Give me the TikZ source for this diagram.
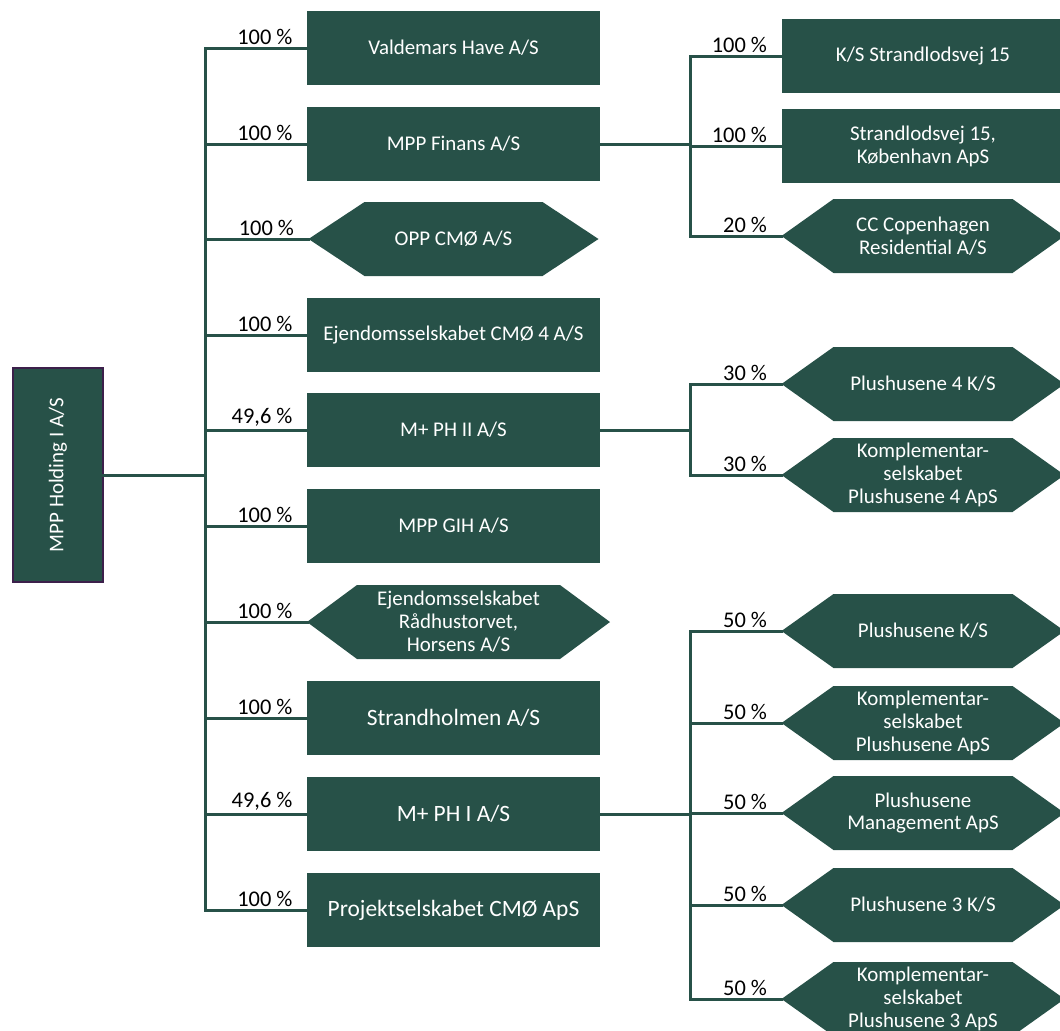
\documentclass[tikz,border=0pt]{standalone}
\usepackage{fontspec}
\setmainfont{Carlito}
\definecolor{mppgreen}{RGB}{39,81,72}
\definecolor{mpppurple}{RGB}{60,32,75}

\begin{document}
\begin{tikzpicture}[x=1bp,y=-1bp,
	company/.style={rectangle,fill=mppgreen,text=white,inner sep=2bp,outer sep=0,minimum height=74bp,align=center,font=\fontsize{21}{23}\selectfont},
	bigco/.style={company,font=\fontsize{23.5}{26}\selectfont},
	hexco/.style={company,fill=none,path picture={
		\fill[mppgreen] (path picture bounding box.west) -- ([xshift=#1]path picture bounding box.north west) -- ([xshift=-#1]path picture bounding box.north east) -- (path picture bounding box.east) -- ([xshift=-#1]path picture bounding box.south east) -- ([xshift=#1]path picture bounding box.south west) -- cycle;}},
	hexco/.default=52bp,
	owner/.style={draw=mppgreen,line width=3bp,line cap=rect},
	pct/.style={pos=1,anchor=south east,xshift=-12bp,yshift=1bp,inner sep=1bp,text=black,font=\fontsize{22.5}{24}\selectfont}]
	\useasboundingbox (0,0) rectangle (1060,1031);
	\clip (0,0) rectangle (1060,1031);
	\node[draw=mpppurple,line width=2.5bp,fill=mppgreen,text=white,rotate=90,inner sep=0,outer sep=0,minimum width=214bp,minimum height=90bp,font=\fontsize{21}{23}\selectfont] (holding) at (58,475) {MPP Holding I A/S};
	\node[company,minimum width=293bp] (valdemars) at (453.5,48) {Valdemars Have A/S};
	\node[company,minimum width=293bp] (finans) at (453.5,144) {MPP Finans A/S};
	\node[hexco=56bp,minimum width=290bp] (opp) at (453.5,239) {OPP CMØ A/S};
	\node[company,minimum width=293bp] (cmo4) at (453.5,335) {Ejendomsselskabet CMØ 4 A/S};
	\node[company,minimum width=293bp] (phii) at (453.5,430) {M+ PH II A/S};
	\node[company,minimum width=293bp] (gih) at (453.5,526) {MPP GIH A/S};
	\node[hexco=50bp,minimum width=303bp] (raadhus) at (458.5,622) {Ejendomsselskabet\\Rådhustorvet,\\Horsens A/S};
	\node[bigco,minimum width=293bp] (strandholmen) at (453.5,718) {Strandholmen A/S};
	\node[bigco,minimum width=293bp] (phi) at (453.5,814) {M+ PH I A/S};
	\node[bigco,minimum width=293bp] (cmoaps) at (453.5,910) {Projektselskabet CMØ ApS};
	\node[company,minimum width=283bp] (ks15) at (923,56) {K/S Strandlodsvej 15};
	\node[company,minimum width=283bp] (sv15) at (923,146) {Strandlodsvej 15,\\København ApS};
	\node[hexco,minimum width=283bp] (ccres) at (923,236) {CC Copenhagen\\Residential A/S};
	\node[hexco,minimum width=283bp] (ph4ks) at (923,384) {Plushusene 4 K/S};
	\node[hexco,minimum width=283bp] (ph4aps) at (923,475) {Komplementar-\\selskabet\\Plushusene 4 ApS};
	\node[hexco,minimum width=283bp] (phks) at (923,631) {Plushusene K/S};
	\node[hexco,minimum width=283bp] (phaps) at (923,723) {Komplementar-\\selskabet\\Plushusene ApS};
	\node[hexco,minimum width=283bp] (phman) at (923,813) {Plushusene\\Management ApS};
	\node[hexco,minimum width=283bp] (ph3ks) at (923,905) {Plushusene 3 K/S};
	\node[hexco,minimum width=283bp] (ph3aps) at (923,999) {Komplementar-\\selskabet\\Plushusene 3 ApS};
	\coordinate (trunk) at (205,475);
	\coordinate (finansfork) at (690,144);
	\coordinate (phiifork) at (690,430);
	\coordinate (phifork) at (690,814);
	% holding -> first level
	\draw[owner] (holding) -- (trunk);
	\draw[owner] (trunk |- valdemars) -- (trunk |- cmoaps);
	\draw[owner] (trunk |- valdemars) -- node[pct] {100 \%} (valdemars.west);
	\draw[owner] (trunk |- finans) -- node[pct] {100 \%} (finans.west);
	\draw[owner] (trunk |- opp) -- node[pct] {100 \%} (opp.west);
	\draw[owner] (trunk |- cmo4) -- node[pct] {100 \%} (cmo4.west);
	\draw[owner] (trunk |- phii) -- node[pct] {49,6 \%} (phii.west);
	\draw[owner] (trunk |- gih) -- node[pct] {100 \%} (gih.west);
	\draw[owner] (trunk |- raadhus) -- node[pct] {100 \%} (raadhus.west);
	\draw[owner] (trunk |- strandholmen) -- node[pct] {100 \%} (strandholmen.west);
	\draw[owner] (trunk |- phi) -- node[pct] {49,6 \%} (phi.west);
	\draw[owner] (trunk |- cmoaps) -- node[pct] {100 \%} (cmoaps.west);
	% second level
	\draw[owner] (finans) -- (finansfork);
	\draw[owner] (finansfork |- ks15) -- (finansfork |- ccres);
	\draw[owner] (finansfork |- ks15) -- node[pct] {100 \%} (ks15.west);
	\draw[owner] (finansfork |- sv15) -- node[pct] {100 \%} (sv15.west);
	\draw[owner] (finansfork |- ccres) -- node[pct] {20 \%} (ccres.west);
	\draw[owner] (phii) -- (phiifork);
	\draw[owner] (phiifork |- ph4ks) -- (phiifork |- ph4aps);
	\draw[owner] (phiifork |- ph4ks) -- node[pct] {30 \%} (ph4ks.west);
	\draw[owner] (phiifork |- ph4aps) -- node[pct] {30 \%} (ph4aps.west);
	\draw[owner] (phi) -- (phifork);
	\draw[owner] (phifork |- phks) -- (phifork |- ph3aps);
	\draw[owner] (phifork |- phks) -- node[pct] {50 \%} (phks.west);
	\draw[owner] (phifork |- phaps) -- node[pct] {50 \%} (phaps.west);
	\draw[owner] (phifork |- phman) -- node[pct] {50 \%} (phman.west);
	\draw[owner] (phifork |- ph3ks) -- node[pct] {50 \%} (ph3ks.west);
	\draw[owner] (phifork |- ph3aps) -- node[pct] {50 \%} (ph3aps.west);
\end{tikzpicture}
\end{document}
